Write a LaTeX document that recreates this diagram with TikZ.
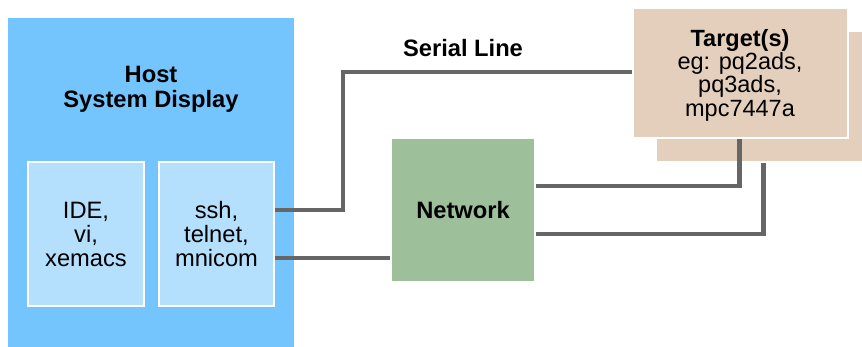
\documentclass[tikz,border=0pt]{standalone}
\usepackage{fontspec}
\setmainfont{Liberation Sans}
\definecolor{hostblue}{RGB}{116,196,253}
\definecolor{innerblue}{RGB}{180,224,253}
\definecolor{netgreen}{RGB}{157,192,155}
\definecolor{tgtbeige}{RGB}{228,207,188}
\definecolor{linegray}{RGB}{102,102,102}
\tikzset{
  txt/.style={font=\fontsize{23.7}{24}\selectfont, align=center},
  hostbox/.style={fill=hostblue, inner sep=0pt, outer sep=0pt},
  innerbox/.style={fill=innerblue, draw=white, line width=2.4pt, inner sep=0pt, txt},
  netbox/.style={fill=netgreen, inner sep=0pt, outer sep=2pt, txt},
  tgtbox/.style={fill=tgtbeige, draw=white, line width=2pt, inner sep=0pt, txt},
  conn/.style={draw=linegray, line width=4.2pt, line join=miter},
}
\begin{document}
\begin{tikzpicture}[x=1pt,y=-1pt]
\useasboundingbox (0,0) rectangle (862,347);
% host
\node[hostbox, minimum width=286pt, minimum height=329pt] (host) at (151,182.5) {};
\node[txt, font=\fontsize{23.7}{25}\selectfont\bfseries] (hostlabel) at (151,89) {Host\\System Display};
\node[innerbox, minimum width=115.6pt, minimum height=143.6pt] (ide) at (86,234) {IDE,\\vi,\\xemacs};
\node[innerbox, minimum width=114.6pt, minimum height=143.6pt] (ssh) at (216.5,234) {ssh,\\telnet,\\mnicom};
% network
\node[netbox, minimum width=142pt, minimum height=142pt, font=\fontsize{23.7}{24}\selectfont\bfseries] (net) at (463,210) {Network};
% targets
\node[tgtbox, minimum width=208pt, minimum height=130.5pt] (tgtback) at (760,96.5) {};
\node[tgtbox, minimum width=215pt, minimum height=130pt] (tgt) at (740.5,73) {};
\node[txt, font=\fontsize{23.5}{23.3}\selectfont] (tgtlabel) at (740,75) {\textbf{Target(s)}\\eg: pq2ads,\\pq3ads,\\mpc7447a};
% serial label
\node[txt, font=\fontsize{23.7}{24}\selectfont\bfseries, anchor=base] (serial) at (463,57) {Serial Line};
% connectors
\draw[conn] (ssh.east |- 0,210) -| (343,72) -- (tgt.west |- 0,72);
\draw[conn] (ssh.east |- 0,258) -- (net.west |- 0,258);
\draw[conn] (net.east |- 0,186) -| (739.5,0 |- tgt.south);
\draw[conn] (net.east |- 0,234) -| (763.5,0 |- tgtback.south);
\end{tikzpicture}
\end{document}
